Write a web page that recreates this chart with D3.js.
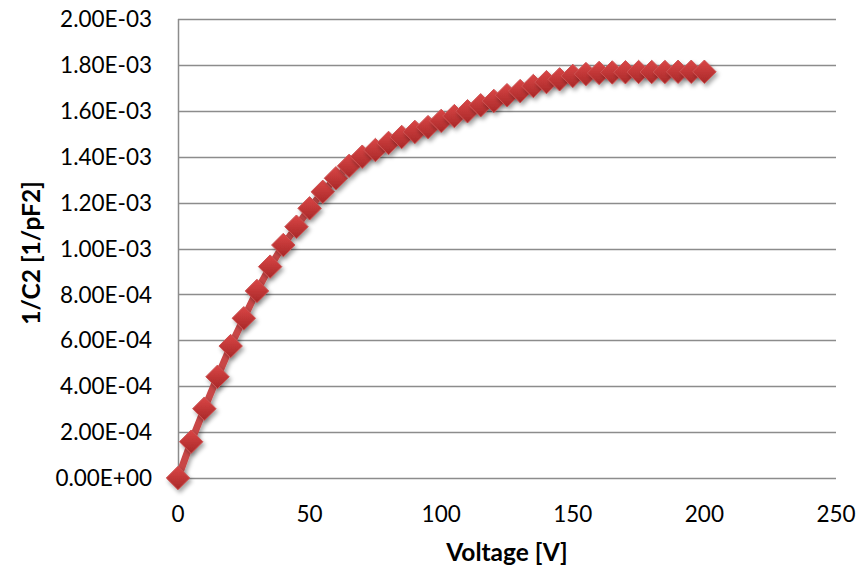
<!DOCTYPE html>
<meta charset="utf-8">
<title>1/C2 vs voltage</title>
<style>
    body { margin: 0; background: #fff; }
    text { font-family: Lato, "Open Sans", sans-serif; fill: #000; }
</style>
<body>
<script src="https://cdn.jsdelivr.net/npm/d3@7"></script>
<script>
    var width = 863;
    var height = 568;

    // voltage steps [V]
    var voltage = [0, 5, 10, 15, 20, 25, 30, 35, 40, 45, 50, 55, 60, 65, 70, 75, 80, 85, 90, 95,
                   100, 105, 110, 115, 120, 125, 130, 135, 140, 145, 150, 155, 160, 165, 170, 175,
                   180, 185, 190, 195, 200];
    // 1/C^2 [1/pF2]
    var invC2 = [0, 1.58e-4, 3.02e-4, 4.41e-4, 5.75e-4, 6.96e-4, 8.15e-4, 9.21e-4, 1.015e-3, 1.095e-3,
                 1.175e-3, 1.247e-3, 1.306e-3, 1.360e-3, 1.400e-3, 1.429e-3, 1.460e-3, 1.486e-3, 1.508e-3, 1.529e-3,
                 1.556e-3, 1.577e-3, 1.598e-3, 1.624e-3, 1.643e-3, 1.668e-3, 1.686e-3, 1.708e-3, 1.725e-3, 1.737e-3,
                 1.752e-3, 1.760e-3, 1.765e-3, 1.767e-3, 1.768e-3, 1.769e-3, 1.769e-3, 1.769e-3, 1.770e-3, 1.770e-3,
                 1.770e-3];
    var xTicks = [0, 50, 100, 150, 200, 250];
    var yTicks = [0, 2e-4, 4e-4, 6e-4, 8e-4, 1e-3, 1.2e-3, 1.4e-3, 1.6e-3, 1.8e-3, 2e-3];

    var points = voltage.map(function(v, i) { return {x: v, y: invC2[i]}; });

    var margin = {left: 178, right: 27, top: 19, bottom: 90};

    var x = d3.scaleLinear().domain([0, 250]).range([margin.left, width - margin.right]);
    var y = d3.scaleLinear().domain([0, 2e-3]).range([height - margin.bottom, margin.top]);

    var svg = d3.select("body").append("svg")
        .attr("width", width)
        .attr("height", height);

    var defs = svg.append("defs");
    var grad = defs.append("linearGradient")
        .attr("id", "mk")
        .attr("x1", 0).attr("y1", 0).attr("x2", 0).attr("y2", 1);
    grad.append("stop").attr("offset", "0%").attr("stop-color", "#da4646");
    grad.append("stop").attr("offset", "100%").attr("stop-color", "#a82828");

    var shadow = defs.append("filter").attr("id", "shadow")
        .attr("x", "-50%").attr("y", "-50%").attr("width", "200%").attr("height", "200%");
    shadow.append("feDropShadow")
        .attr("dx", 2).attr("dy", 3)
        .attr("stdDeviation", 2)
        .attr("flood-color", "#000")
        .attr("flood-opacity", 0.35);

    // gridlines
    svg.append("g")
        .selectAll("line")
        .data(yTicks)
        .enter().append("line")
        .attr("x1", x(0))
        .attr("x2", x(250))
        .attr("y1", function(d) { return Math.round(y(d)) + 0.5; })
        .attr("y2", function(d) { return Math.round(y(d)) + 0.5; })
        .style("stroke", "#8c8c8c")
        .style("stroke-width", 1.5);

    // y axis line
    svg.append("line")
        .attr("x1", x(0) + 0.5).attr("x2", x(0) + 0.5)
        .attr("y1", y(2e-3)).attr("y2", y(0))
        .style("stroke", "#8c8c8c")
        .style("stroke-width", 1.5);

    // y tick labels
    svg.append("g")
        .selectAll("text")
        .data(yTicks)
        .enter().append("text")
        .attr("x", 152)
        .attr("y", function(d) { return y(d); })
        .attr("dy", "0.36em")
        .style("text-anchor", "end")
        .style("font-size", "22.5px")
        .text(function(d) {
            return d3.format(".2e")(d).replace(/e([+-])(\d)$/, "e$10$2").toUpperCase();
        });

    // x tick labels
    svg.append("g")
        .selectAll("text")
        .data(xTicks)
        .enter().append("text")
        .attr("x", function(d) { return x(d); })
        .attr("y", 522)
        .style("text-anchor", "middle")
        .style("font-size", "22.5px")
        .text(function(d) { return d; });

    // axis titles
    svg.append("text")
        .attr("x", (x(0) + x(250)) / 2)
        .attr("y", 561)
        .style("text-anchor", "middle")
        .style("font-size", "24.5px")
        .style("font-weight", "bold")
        .text("Voltage [V]");

    svg.append("text")
        .attr("transform", "translate(40,253) rotate(-90)")
        .style("text-anchor", "middle")
        .style("font-size", "24.5px")
        .style("font-weight", "bold")
        .text("1/C2 [1/pF2]");

    // series line
    var line = d3.line()
        .x(function(d) { return x(d.x); })
        .y(function(d) { return y(d.y); });

    svg.append("path")
        .datum(points)
        .attr("d", line)
        .style("fill", "none")
        .style("stroke", "#c84646")
        .style("stroke-width", 7)
        .style("stroke-linejoin", "round")
        .attr("filter", "url(#shadow)");

    // diamond markers
    var diamond = d3.symbol().type(d3.symbolDiamond2).size(350);

    svg.append("g")
        .selectAll("path")
        .data(points)
        .enter().append("path")
        .attr("d", diamond)
        .attr("transform", function(d) { return "translate(" + x(d.x) + "," + y(d.y) + ")"; })
        .style("fill", "url(#mk)")
        .style("stroke", "#cc5252")
        .style("stroke-width", 1)
        .attr("filter", "url(#shadow)");
</script>
</body>
